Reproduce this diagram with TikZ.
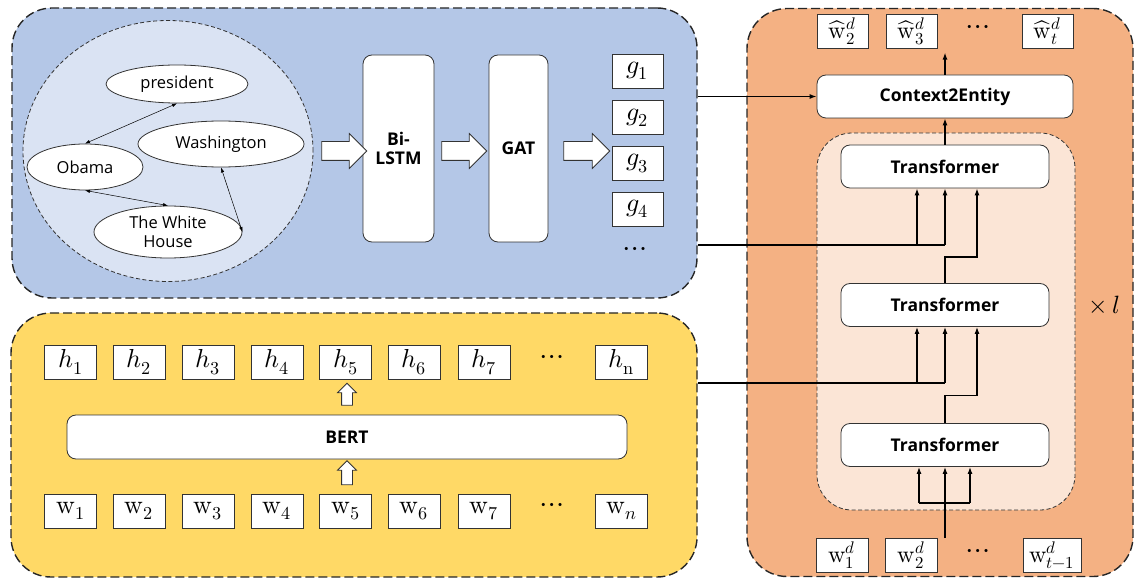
\documentclass[tikz,border=0pt]{standalone}
\usepackage{fontspec}
\usepackage{unicode-math}
\setmainfont{Open Sans}
\setmathfont{Latin Modern Math}
\usetikzlibrary{positioning,arrows.meta,shapes.geometric,shapes.arrows,calc}
\definecolor{graphblue}{HTML}{B4C7E7}
\definecolor{graphlight}{HTML}{DAE3F3}
\definecolor{decorange}{HTML}{F4B183}
\definecolor{decpeach}{HTML}{FBE5D6}
\definecolor{encyellow}{HTML}{FFD966}
\tikzset{
  panel/.style ={draw=black!85, line width=1.4pt, dash pattern=on 9pt off 4pt,
                 rounded corners=40pt, inner sep=0pt},
  tok/.style   ={draw=black!80, fill=white, line width=0.8pt, minimum width=52pt,
                 minimum height=34pt, inner sep=0pt, font=\fontsize{26}{28}\selectfont},
  dtok/.style  ={tok, font=\fontsize{24}{26}\selectfont},
  layer/.style ={draw=black!80, fill=white, rounded corners=9pt, line width=0.8pt,
                 align=center, inner sep=0pt, font=\fontsize{17.5}{19}\selectfont\bfseries},
  ent/.style   ={ellipse, draw=black!80, fill=white, line width=0.8pt, inner sep=0pt,
                 align=center, font=\fontsize{16.5}{19}\selectfont},
  fat/.style   ={single arrow, draw=black!80, fill=white, line width=0.8pt,
                 inner sep=9pt, single arrow head extend=8pt},
  upfat/.style ={single arrow, shape border rotate=90, draw=black!80, fill=white,
                 line width=0.8pt, inner sep=5pt, single arrow head extend=4pt},
  wire/.style  ={line width=1.2pt},
  arr/.style   ={-{Latex[length=7pt,width=5pt]}, line width=1.2pt},
  rel/.style   ={{Latex[length=5pt,width=3.5pt]}-{Latex[length=5pt,width=3.5pt]}, line width=0.5pt},
  dots/.style  ={font=\fontsize{30}{32}\selectfont},
}

\begin{document}
\begin{tikzpicture}[x=1pt,y=-1pt]
  \useasboundingbox (0,0) rectangle (1136,580);

  % panels
  \node[panel, fill=graphblue, minimum width=685pt, minimum height=290pt] (gpanel) at (354.5,153) {};
  \node[panel, fill=encyellow, minimum width=686pt, minimum height=264pt] (ypanel) at (354,445) {};
  \node[panel, fill=decorange, minimum width=386pt, minimum height=568pt] (dpanel) at (940,292.5) {};
  \node[draw=black!80, fill=decpeach, line width=0.8pt, dash pattern=on 4pt off 2.5pt,
        rounded corners=35pt, minimum width=258pt, minimum height=377pt] (stack) at (946,321.5) {};

  % entity graph
  \node[ellipse, draw=black!80, fill=graphlight, line width=0.8pt, dash pattern=on 4pt off 2.5pt,
        minimum width=290pt, minimum height=261pt] (kg) at (168,151) {};
  \node[ent, minimum width=142pt, minimum height=38pt] (pres)  at (177,84)  {president};
  \node[ent, minimum width=166pt, minimum height=46pt] (wash)  at (221,144) {Washington};
  \node[ent, minimum width=116pt, minimum height=46pt] (obama) at (85,167)  {Obama};
  \node[ent, minimum width=148pt, minimum height=52pt] (wh)    at (168,232) {The White\\House};
  \draw[rel] (pres.south) -- (obama.north);
  \draw[rel] (obama.south) -- (wh.north);
  \draw[rel] (wash.south) -- (wh.east);

  \node[layer, minimum width=71pt, minimum height=187pt] (lstm) at (398.5,148.5) {Bi-\\LSTM};
  \node[layer, minimum width=59pt, minimum height=187pt] (gat)  at (518.5,148.5) {GAT};
  \node[fat, minimum height=45pt] (fa1) at (339.5,151) {};
  \node[fat, minimum height=45pt] (fa2) at (459.5,151) {};
  \node[fat, minimum height=46pt] (fa3) at (582,151) {};

  \node[tok, minimum width=51pt] (g1) at (637.5,71)    {$g_1$};
  \node[tok, minimum width=51pt] (g2) at (637.5,117.5) {$g_2$};
  \node[tok, minimum width=51pt] (g3) at (637.5,163.5) {$g_3$};
  \node[tok, minimum width=51pt] (g4) at (637.5,209)   {$g_4$};
  \node[dots] (gdots) at (635,252) {$\cdots$};

  % encoder
  \node[layer, minimum width=560pt, minimum height=44pt] (bert) at (347,437) {BERT};
  \foreach \i/\x in {1/70.5,2/139,3/208,4/277,5/345.5,6/414,7/484} {
    \node[tok] (h\i) at (\x,362) {$h_\i$};
    \node[tok] (w\i) at (\x,511) {$\symup{w}_\i$};
  }
  \node[dots] (hdots) at (552,360) {$\cdots$};
  \node[dots] (wdots) at (552,508) {$\cdots$};
  \node[tok] (hn) at (621.5,362) {$h_{\symup{n}}$};
  \node[tok] (wn) at (621.5,511) {$\symup{w}_n$};
  \node[upfat, minimum height=22pt] (ua1) at (347,397) {};
  \node[upfat, minimum height=24pt] (ua2) at (347,475.5) {};

  % decoder
  \node[dtok, minimum width=51pt] (wh2) at (842.5,31.5)  {$\widehat{\symup{w}}_2^d$};
  \node[dtok, minimum width=51pt] (wh3) at (911.5,31.5)  {$\widehat{\symup{w}}_3^d$};
  \node[dots] (whdots) at (978,30) {$\cdots$};
  \node[dtok, minimum width=51pt] (wht) at (1047.5,31.5) {$\widehat{\symup{w}}_t^d$};
  \node[layer, minimum width=256pt, minimum height=43pt] (c2e) at (945,96.5) {Context2Entity};
  \node[layer, minimum width=208pt, minimum height=43pt] (tf1) at (945,166.5) {Transformer};
  \node[layer, minimum width=208pt, minimum height=43pt] (tf2) at (945,305)   {Transformer};
  \node[layer, minimum width=208pt, minimum height=43pt] (tf3) at (945,445)   {Transformer};
  \node[font=\fontsize{25}{27}\selectfont] (rep) at (1104,305) {$\times\, l$};
  \node[dtok] (wd1) at (842,555.5) {$\symup{w}_1^d$};
  \node[dtok] (wd2) at (911.5,555.5) {$\symup{w}_2^d$};
  \node[dots] (wddots) at (978,554) {$\cdots$};
  \node[dtok, minimum width=58pt] (wdt) at (1052,555.5) {$\symup{w}_{t-1}^d$};

  % connections
  \draw[arr] (gpanel.east |- c2e) -- (c2e.west);
  \draw[arr] (c2e.north) -- ++(0,-22);
  \draw[arr] (tf1.north) -- (c2e.south);

  \coordinate (gturn) at (945,245);
  \draw[wire] (gpanel.east |- gturn) -- (gturn);
  \draw[arr] (gturn) -- (tf1.south);
  \draw[arr] ([xshift=-28pt]tf1.south |- gturn) -- ([xshift=-28pt]tf1.south);
  \draw[arr] (tf2.north) -- ++(0,-26) -| ([xshift=32pt]tf1.south);

  \coordinate (yturn) at (945,383);
  \draw[wire] (ypanel.east |- yturn) -- (yturn);
  \draw[arr] (yturn) -- (tf2.south);
  \draw[arr] ([xshift=-28pt]tf2.south |- yturn) -- ([xshift=-28pt]tf2.south);
  \draw[arr] (tf3.north) -- ++(0,-28) -| ([xshift=32pt]tf2.south);

  \coordinate (din) at (945,538);
  \coordinate (dsplit) at (945,503);
  \draw[line width=2pt] (din) -- (dsplit);
  \draw[wire] ([xshift=-26pt]dsplit) -- ([xshift=25pt]dsplit);
  \foreach \dx in {-26,0,25}
    \draw[arr] ([xshift=\dx pt]dsplit) -- ([xshift=\dx pt]tf3.south);
\end{tikzpicture}
\end{document}
